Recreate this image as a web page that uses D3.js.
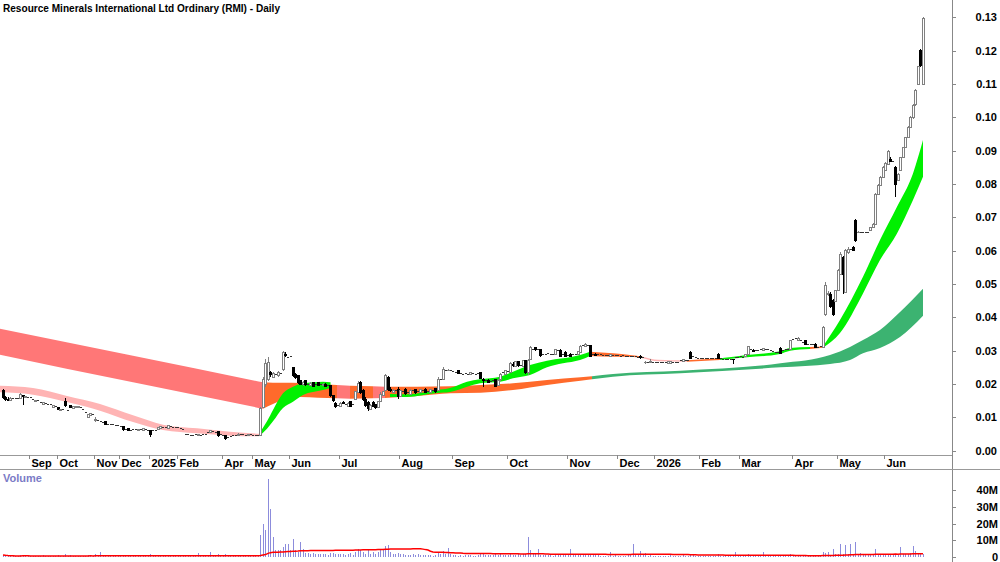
<!DOCTYPE html>
<html>
<head>
<meta charset="utf-8">
<script src="https://cdn.jsdelivr.net/npm/d3@7"></script>
<style>
  body { margin: 0; background: #fff; }
  svg text { font-family: "Liberation Sans Narrow", "Arial Narrow", "Liberation Sans", Arial, sans-serif; font-weight: bold; font-size: 11px; }
</style>
</head>
<body>
<svg id="chart" width="1000" height="562"></svg>
<script>
// daily candles, prices in 1/1000 dollar: [open, high, low, close] or [price] for a flat day
var candles = [
  [18,18.5,15.5,16],[16,16.5,15,15.5],[15.5,16,15,15.2],[15.2,16,15.2,15.8],[15.8],[15.8],[15.8],[15.8,17.2,15.8,17],[16.5,16.8,13.7,16.2],[16.2,16.5,16,16.2],
  [16],[16],[15.5],[14.8,15.3,14.8,15.2],[15],[14.5],[14,14.5,14,14.4],[14.2],[14],[13.8],
  [13,13.6,13,13.5],[13.2],[13,13,12.2,12.4],[12,12.5,12,12.4],[12.5],[14.8,15.8,13.2,13.6],[12],[13.6,13.8,12.8,13],[12.8,13.4,12.8,13.3],[13,13.4,13,13.3],
  [13,13.4,13,13.3],[13],[12.5],[11.5],[10,11,9.8,10.8],[10.6,11.3,10.6,11.2],[11],[9,10,8.5,9.5],[9],[8.8],
  [8.6],[8.8,8.8,7.6,8],[8],[8],[7.8],[7.7],[7.5],[7.2],[7.2,7.2,6,6.3],[6.5],
  [6.8,6.8,5.8,6],[6.2],[6.3],[6.5],[6,6.6,6,6.5],[6.5],[6.2,6.8,6.2,6.6],[6.3],[6],[6.2,6.2,4.2,4.8],
  [6],[6.2],[6.5,7.2,6.5,7],[6.8,7.3,6.8,7.2],[7],[7],[6.8,7.7,6.8,7.6],[7.2],[7],[7],
  [7],[6.8],[6.5],[5],[4.8],[4.7],[4.7],[4.8],[4.5,5,4.5,4.9],[4.6],
  [5],[4.8],[5.5],[5.6,6.2,5.6,6],[5.8],[5.5],[5.8,5.9,4.2,4.6],[4.8],[4.5],[4.6,4.6,3.3,3.6],
  [4],[4.3],[4.5],[4.5],[4.6,5.2,4.6,5],[4.8],[4.8],[4.5],[4.6,5.1,4.6,5],[4.8],
  [4.6],[4.5],[4.6],[4.7,13,4.7,12.8],[13,22,12.8,21.5],[20,27.5,19,26.3],[21.5,28,21,26.5],[23.5,24,22,22.8],[22,23.5,22,23.2],[23],
  [22.5,24,22.2,23.6],[23.3],[24.5,30,24,29.5],[29,29.5,28,28.6],[28],[28.2],[25,25.2,22,22.5],[23,23.2,21.5,22],[22.5,22.8,20,20.5],[21,21.3,19.8,20],
  [19.8,21,19.5,20.5],[21,21.2,19.5,19.8],[20],[19.5,20.5,19.5,20.2],[20.5,20.5,19,19.3],[20],[20.5,20.6,19.4,19.6],[19.8],[19.5,20.3,19.5,20],[20,20.2,19,19.2],
  [19.5],[19.6,19.8,16.2,16.5],[16.5,16.8,14.5,15],[14.2,14.5,12.8,13.2],[13.5],[13.2,14.6,13,14.3],[14.5,15,14,14.2],[14],[13.2,14.5,13,14.2],[14.8,15,13,13.4],
  [14],[15.5,18,15.3,17.8],[17.5,21,17.3,20.3],[20.5,21,17,17.5],[18,18.5,15,15.5],[15.5,16,13,13.5],[14.5,15,12,12.8],[12.5,14,12.3,13.5],[14.5,15,13,13.3],[13.8,14,12.5,13],
  [13,15,12.8,14.8],[14.8,17.5,14.5,17],[16.5,18,16.3,17.8],[18,23,17.8,22.5],[22,22.5,18,18.5],[18.5,19,17.5,18],[17.5,18.5,17.3,18.2],[18],[18.5,19,15.5,16.2],[16.2,18.2,16,18],
  [17.8],[18.5,18.8,16.8,17.2],[17.5],[17,18.5,17,18.2],[18],[18.5,18.6,17,17.4],[17.8],[17.4,18.6,17.2,18.4],[18],[18.5,18.7,17.3,17.6],
  [17.8],[17.5,18.5,17.3,18.3],[18.2],[18.6,18.8,17.4,17.8],[18,22,17.8,21.5],[21.5],[21.5,25,21.2,24.5],[24.2],[24,24.5,23.8,24.2],[24],
  [23.8],[23.5],[24,24.2,23,23.2],[23.3],[23],[23.2],[23],[22.8,23.6,22.8,23.4],[23.3],[23],
  [23.2],[23.5,23.6,21.5,21.8],[21.5,21.8,19,21],[21],[21.2,21.4,20.2,20.5],[20.8],[21],[21.3,21.5,19,19.4],[19.5,21.5,19.3,21.2],[21.3,23.3,21,23],
  [23.5],[23,24.2,22.8,24],[23.8],[23.5,26.5,23.3,26.3],[26,26.6,25.2,25.6],[25.4,27,25.2,26.8],[26.8,27,25.2,25.5],[25.5],[25.3,27.2,25.1,27],[27,27.3,23,23.5],
  [23.5,27.5,22.8,27.2],[27.5,31.3,27.2,31],[30.5],[31,31.2,30,30.3],[30.5],[30.3,30.5,28.2,28.5],[28.8],[29],[29.2],[29],
  [29],[29,30.6,28.8,30.4],[30],[30.2,30.4,28,28.3],[28.8],[29.5,29.8,28,28.4],[28.6],[29,29.2,28,28.2],[28.8],[29],
  [28.8,30,28.6,29.8],[29.6,31.6,29.4,31.4],[31.5],[31.2,32.2,31,32],[31.6],[31.6,31.8,28,28.3],[28.8],[29,29.2,28.5,28.6],[28.8],[28.8],
  [28.6],[28.7],[28.7],[28.4,29,28.4,28.8],[28.7],[28.5],[28.5],[28.4],[28.5],[28.4],
  [28.3],[28.3],[28.2],[28.2],[28],[28.2,28.8,27.6,28],[28],[26.5,27,26,26.6],[26.5],[26.6,27.5,26.2,26.8],
  [26.5],[26.6],[26.5],[26.5],[26.6],[26.5],[26.3,27,26.3,26.8],[26.3,27,26.3,26.8],[26.5],[26.6],
  [26.5],[27],[26.8,27.5,26.6,27.3],[27.2],[27],[29.5,29.8,27.5,27.8],[28.2],[28],[27.8],[27.8],
  [27.8],[27.7],[27.8],[27.8],[27.7],[27.8],[29,29.2,27.6,27.8],[27.7],[27.5],[27.5],
  [27.5],[27.4],[27.5,27.6,26,27.3],[28],[28],[28.2],[28],[28.4,29,28.4,28.8],[28.8,31.5,28.6,31.2],[30.5],
  [30,30.4,29.6,29.8],[30],[30],[30.5],[30,30.8,30,30.6],[30.3],[30.5],[30.2],[29.8],[29.5],
  [29.5],[30.8,31,29,29.3],[30],[30.5],[30.5],[30.5,33.2,30.3,33],[33.5],[33.6],[33,34,33,33.6],[33.2],
  [32.5],[33,33.2,31.8,32],[32],[32],[32],[32,32.2,30.8,31],[31],[31.2],[31,37.5,30.8,37],[41,50.5,40.5,49.5],
  [47,48,46.5,47.3],[47,47.5,42.8,43.2],[45,45.5,40.5,41],[44.8,48.2,44.5,48],[48,54.5,47.8,54],[53,59.5,52.8,59],[58,58.5,47,53],[47.5,60.5,47.2,60],[59.5,61,59,60.5],[60.5],
  [61,61.3,59.8,60.2],[69,69.5,62.5,63],[65.5,66,65.2,65.6],[65.6],[65.5],[65.5],[65.6],[66.2,67.2,66,67],[67,68.2,66.8,68],[68,77.2,67.8,77],
  [77,80,76.8,79.5],[79.5,82.3,79.3,82],[82,85.3,81.8,85],[84,86.5,83.8,86.2],[86,90.2,85.8,89.8],[87.5,88,86.5,86.8],[86.8],[85,85.3,76,80],[81,83.2,80.8,83],[84,88.2,83.8,88],
  [88,91.2,87.8,91],[91,94.2,90.8,94],[94,97.5,93.8,97],[97,100.5,96.8,100],[100,104,99.5,103.5],[104,108.5,103.5,108],[110,115.5,109.8,115.2],[120,120.5,115,115.5],[110,130,109.8,129.8]
];

// daily volume, millions
var volumes = [
  1.2,0.8,0.6,0.5,0.3,0.3,0.4,1.0,1.4,0.6,
  0.4,0.3,0.5,0.8,0.4,0.5,0.9,0.4,0.3,0.5,
  0.8,0.4,1.1,0.7,0.5,1.6,0.3,1.0,0.8,0.6,
  0.7,0.4,0.3,0.5,1.2,1.4,0.5,1.5,0.6,3.0,
  0.5,1.3,0.4,0.4,0.5,0.4,0.6,0.5,1.2,0.4,
  1.0,0.4,0.5,0.4,0.9,0.3,1.0,0.5,0.4,1.8,
  0.6,0.5,0.9,1.1,0.4,0.5,1.4,0.6,0.5,0.4,
  0.4,0.5,0.6,1.0,0.4,0.5,0.4,0.6,2.5,0.5,
  0.8,0.5,0.9,2.8,0.6,0.5,1.5,0.7,0.5,1.7,
  0.6,0.5,0.5,0.6,1.2,0.5,0.6,0.5,1.0,0.6,
  0.5,0.6,0.8,13,20,16,47,29,12,4,
  4,4,6,8,8,4,11,4,3,9,
  5,2.5,2.5,2,2.2,1.5,2,1.8,1.5,1.6,
  1.4,2.5,2.2,1.8,1.5,2,1.6,1.2,1.5,2.5,
  1.4,3,5,4,3,2,4,2,3,2,
  3,4,5,6.5,7,3,2,1.5,2.5,1.8,
  1.5,1.2,1.4,1,1.6,1.2,1.5,1,0.9,1.2,
  1.1,1,0.8,1.3,2.5,1.5,3.5,1.6,5.5,1.5,
  1.2,1,0.8,1.2,0.7,1,0.9,1.1,0.8,0.7,
  1,1.6,1.8,1,1.2,0.9,1,1.5,1.3,1.8,
  1.2,1,1,1.6,1.2,1.4,1.5,1,1.5,2,
  12,4,1.8,1.6,5,1.2,1,1.2,0.9,1,
  0.8,1.3,1,1.5,1.1,1,1.2,5,1,0.9,
  1,1.4,1.6,1.2,1,1.8,1.2,1,0.9,0.8,
  0.7,0.8,0.7,3,0.8,0.9,0.7,0.6,0.8,0.7,
  1,0.9,7.5,1.2,1,3.5,1.2,2.5,0.8,1.2,
  0.7,0.6,0.5,0.7,0.6,0.8,0.6,0.9,0.7,0.5,
  0.6,0.8,1,0.7,0.6,1.8,1,0.7,0.6,0.5,
  0.6,0.5,0.7,0.6,0.5,0.6,1.5,0.6,0.5,0.4,
  0.6,0.5,0.7,3,0.8,0.6,0.5,0.9,1.5,1,
  0.8,0.6,0.7,0.8,3,0.7,0.6,0.5,0.6,0.4,
  0.5,1.2,0.7,0.6,0.5,1.5,0.8,0.7,0.6,1,
  0.7,0.6,0.5,0.8,0.6,0.7,0.5,0.6,3,2.5,
  3,1,5,2,1.5,7.5,1.5,7,1.8,7.5,
  2,9,1.5,2.5,1.2,1,1.5,1.4,1.6,5,
  1.5,1.8,1.2,1.4,1.6,1.3,2,1.5,1.2,6,
  1.5,1.8,1.6,2.5,6.5,3.5,2,1.5,1.8
];

// moving average bands: [day index, upper, lower, trend]
// trend: d = falling, m = mixed, u = rising, h = hidden behind the other band
var longBand = [
  [-1.2,36.6,28.8,'d'],[52,28.5,20.5,'d'],[104,20.5,12.6,'m'],[108,20.4,14.0,'m'],[112,20.4,15.2,'m'],
  [119,20.3,16.1,'m'],[126,20.0,15.9,'m'],[133.6,19.7,15.7,'d'],[138.8,19.5,15.6,'m'],[148,19.3,15.7,'d'],
  [152.8,19.2,15.8,'m'],[165.6,19.2,16.4,'m'],[179,19.3,17.2,'m'],[191,19.7,17.4,'m'],[204,20.2,18.2,'m'],
  [217.6,21.2,19.7,'m'],[231,22.0,21.0,'m'],[235.6,22.3,21.4,'u'],[244,23.0,22.2,'u'],[271,24.0,23.2,'u'],
  [311,26.2,25.0,'u'],[330.8,28.7,26.0,'u'],[338.8,31.1,27.2,'u'],[344,33.2,29.2,'u'],[350.8,36.2,30.8,'u'],
  [358.8,41.6,34.1,'u'],[368,48.6,40.5,'u']
];
var shortBand = [
  [-1.2,19.5,17.5,'d'],[12,18.8,16.8,'d'],[25.6,16.4,14.6,'d'],[38.8,14.0,12.0,'d'],[52,10.6,8.6,'d'],
  [64,7.8,6.2,'d'],[77.6,6.7,5.2,'d'],[90.8,5.7,4.5,'d'],[102.4,5.1,4.3,'u'],[105.6,8.8,6.6,'u'],
  [108,12.2,8.8,'u'],[112,17.2,12.8,'u'],[116,19.2,14.7,'u'],[120,20.2,16.7,'u'],[128,20.7,18.2,'u'],
  [131,20.5,18.8,'h'],[154.8,17.0,16.1,'u'],[161.6,16.9,16.1,'u'],[173.6,18.2,17.3,'u'],[178.8,18.8,17.6,'u'],
  [185.6,20.7,19.2,'u'],[190.8,21.4,20.2,'u'],[198.8,22.2,20.7,'u'],[204,23.7,21.7,'u'],[210.8,25.7,22.7,'u'],
  [217.6,27.0,25.0,'u'],[224,27.7,26.2,'u'],[230.8,28.7,27.2,'u'],[234.8,29.7,28.4,'m'],[244,29.2,28.2,'m'],
  [250.8,28.7,28.2,'m'],[256,28.2,27.7,'d'],[262,27.3,26.8,'d'],[273.6,27.1,26.7,'m'],[286.8,27.7,27.2,'u'],
  [297.6,28.7,28.0,'u'],[310.8,29.8,29.0,'u'],[314.8,30.8,30.0,'u'],[322.8,31.1,30.5,'m'],[328,31.3,30.9,'u'],
  [334.8,39.2,35.3,'u'],[344,52.2,47.2,'u'],[350.8,63.2,57.2,'u'],[357.6,73.2,65.2,'u'],[364,83.2,75.2,'u'],
  [368,93.2,82.2,'u']
];

// first trading day of each labelled month
var monthLabels = ['Sep','Oct','Nov','Dec','2025','Feb','Apr','May','Jun','Jul','Aug','Sep','Oct','Nov','Dec','2026','Feb','Mar','Apr','May','Jun'];
var monthStart  = [11,22,37,47,59,70,88,100,115,135,159,180,202,226,246,261,279,295,316,334,353];

var priceTicks = [0,0.01,0.02,0.03,0.04,0.05,0.06,0.07,0.08,0.09,0.10,0.11,0.12,0.13];
var volTicks = [0,10,20,30,40];

var svg = d3.select('#chart');
var axisX = 952;

var x = d3.scaleLinear().domain([0, candles.length - 1]).range([3, 923]);
var y = d3.scaleLinear().domain([0, 0.13]).range([450.7, 17.4]);
var yv = d3.scaleLinear().domain([0, 40]).range([557, 490.3]);
var step = x(1) - x(0);

svg.append('clipPath').attr('id', 'priceClip')
  .append('rect').attr('x', 0).attr('y', 0).attr('width', axisX).attr('height', 455);

var pricePanel = svg.append('g').attr('clip-path', 'url(#priceClip)');

// split a band into runs of the same trend
function runs(band) {
  var out = [];
  for (var k = 0; k < band.length - 1; k++) {
    var s = band[k][3];
    if (!out.length || out[out.length - 1].trend !== s) out.push({ trend: s, pts: [band[k]] });
    out[out.length - 1].pts.push(band[k + 1]);
  }
  return out;
}

var bandArea = d3.area()
  .x(function (d) { return x(d[0]) })
  .y0(function (d) { return y(d[2] / 1000) })
  .y1(function (d) { return y(d[1] / 1000) })
  .curve(d3.curveMonotoneX);

var longColor = { d: '#ff7777', m: '#ff6a2b', u: '#3cb371' };
var shortColor = { d: '#ffb4b4', m: '#ff6a2b', u: '#00f000' };

pricePanel.append('g').selectAll('path')
  .data(runs(longBand))
  .enter().append('path')
    .attr('d', function (r) { return bandArea(r.pts) })
    .attr('fill', function (r) { return longColor[r.trend] });

pricePanel.append('g').selectAll('path')
  .data(runs(shortBand).filter(function (r) { return r.trend !== 'h' }))
  .enter().append('path')
    .attr('d', function (r) { return bandArea(r.pts) })
    .attr('fill', function (r) { return shortColor[r.trend] });

// candles
var cg = pricePanel.append('g').attr('shape-rendering', 'crispEdges');
candles.forEach(function (d, i) {
  var cx = x(i);
  if (d.length === 1) {
    // flat day: short dash
    cg.append('line')
      .attr('x1', cx - 1).attr('x2', cx + 1)
      .attr('y1', y(d[0] / 1000)).attr('y2', y(d[0] / 1000))
      .attr('stroke', '#333').attr('stroke-width', 1);
    return;
  }
  var o = d[0] / 1000, h = d[1] / 1000, l = d[2] / 1000, c = d[3] / 1000;
  var up = c >= o;
  cg.append('line')
    .attr('x1', cx).attr('x2', cx)
    .attr('y1', y(h)).attr('y2', y(l))
    .attr('stroke', up ? '#808080' : '#000').attr('stroke-width', 1);
  var top = y(Math.max(o, c)), bot = y(Math.min(o, c));
  cg.append('rect')
    .attr('x', cx - 1).attr('width', 2)
    .attr('y', top).attr('height', Math.max(bot - top, 0.5))
    .attr('fill', up ? '#fff' : '#000')
    .attr('stroke', up ? '#808080' : '#000')
    .attr('stroke-width', 1);
});

// frame lines
svg.append('line').attr('x1', axisX + 0.5).attr('x2', axisX + 0.5).attr('y1', 0).attr('y2', 562)
  .attr('stroke', '#888');
svg.append('line').attr('x1', 0).attr('x2', axisX).attr('y1', 455.5).attr('y2', 455.5)
  .attr('stroke', '#999');
svg.append('line').attr('x1', 0).attr('x2', 1000).attr('y1', 469.5).attr('y2', 469.5)
  .attr('stroke', '#999');

// title
svg.append('text')
  .attr('x', 3).attr('y', 12)
  .attr('textLength', 277).attr('lengthAdjust', 'spacingAndGlyphs')
  .text('Resource Minerals International Ltd Ordinary (RMI) - Daily');

// price axis
var pa = svg.append('g');
priceTicks.forEach(function (t) {
  pa.append('line').attr('x1', axisX).attr('x2', axisX + 4)
    .attr('y1', Math.round(y(t)) + 0.5).attr('y2', Math.round(y(t)) + 0.5).attr('stroke', '#888');
  pa.append('text').attr('x', 997).attr('y', y(t) + 4).attr('text-anchor', 'end')
    .text(t.toFixed(2));
});

// month axis
var ma = svg.append('g');
monthStart.forEach(function (idx, k) {
  var tx = Math.round(x(idx) - step / 2) + 0.5;
  ma.append('line').attr('x1', tx).attr('x2', tx).attr('y1', 455).attr('y2', 459).attr('stroke', '#888');
  ma.append('text').attr('x', tx + 2).attr('y', 466.5).text(monthLabels[k]);
});

// volume panel
svg.append('text').attr('x', 3).attr('y', 482).attr('fill', '#7b7bc6').text('Volume');

var vg = svg.append('g').attr('shape-rendering', 'crispEdges');
volumes.forEach(function (v, i) {
  if (i >= candles.length) return;
  vg.append('line')
    .attr('x1', x(i)).attr('x2', x(i))
    .attr('y1', yv(0)).attr('y2', yv(v))
    .attr('stroke', '#8c8cdc').attr('stroke-width', 1);
});

// volume moving average
var maLen = 65;
var volAvg = volumes.slice(0, candles.length).map(function (v, i) {
  var from = Math.max(0, i - maLen + 1);
  return d3.mean(volumes.slice(from, i + 1));
});
svg.append('path')
  .attr('d', d3.line().x(function (d, i) { return x(i) }).y(function (d) { return yv(d) })(volAvg))
  .attr('fill', 'none').attr('stroke', '#ff0000').attr('stroke-width', 1.5);

var va = svg.append('g');
volTicks.forEach(function (t) {
  va.append('line').attr('x1', axisX).attr('x2', axisX + 4)
    .attr('y1', Math.round(yv(t)) + 0.5).attr('y2', Math.round(yv(t)) + 0.5).attr('stroke', '#888');
  va.append('text').attr('x', 998).attr('y', yv(t) + 4).attr('text-anchor', 'end')
    .text(t === 0 ? '0' : t + 'M');
});
</script>
</body>
</html>
